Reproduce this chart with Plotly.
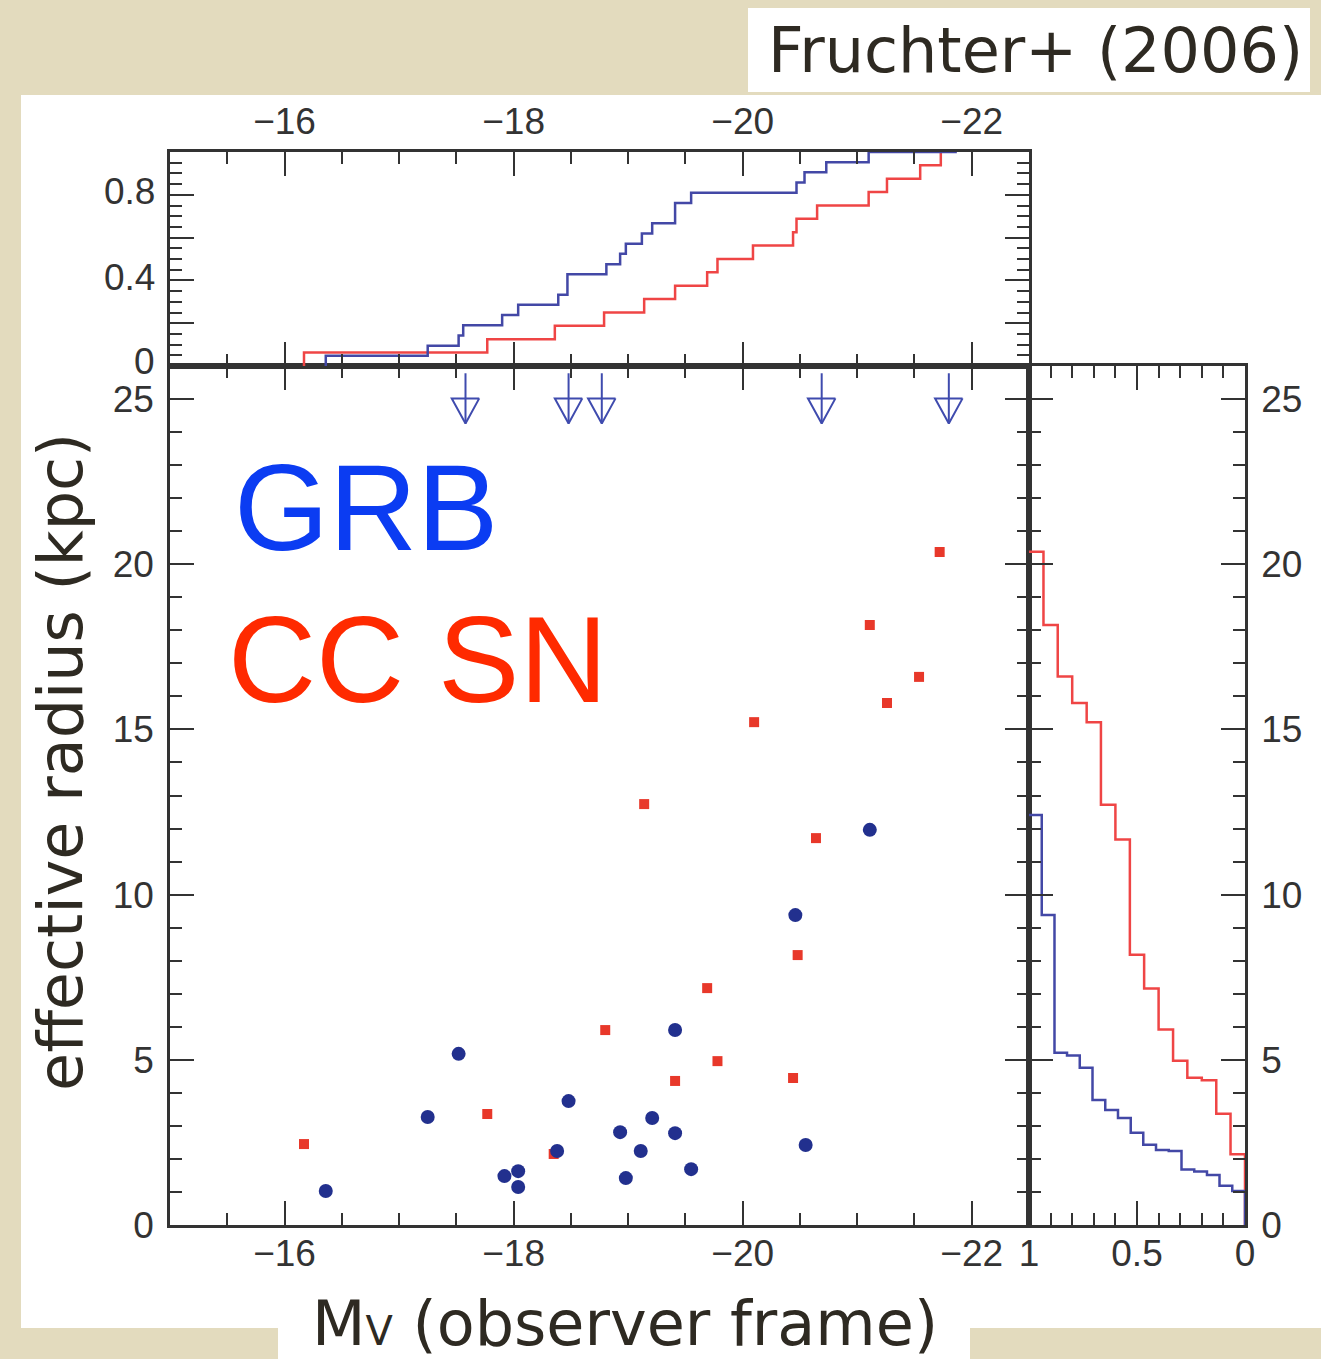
import plotly.graph_objects as go

# ---------------------------------------------------------------- data
# Host galaxies: absolute V magnitude (observer frame) and effective radius (kpc)
grb_mv = [-16.36, -17.25, -17.52, -17.92, -18.04, -18.04, -18.38, -18.48, -18.93,
          -18.98, -19.11, -19.21, -19.41, -19.41, -19.55, -20.46, -20.55, -21.11]
grb_re = [1.03, 3.27, 5.18, 1.48, 1.63, 1.15, 2.24, 3.75, 2.81,
          1.42, 2.24, 3.24, 5.90, 2.78, 1.69, 9.38, 2.42, 11.96]

# GRB hosts with only a size limit (drawn as downward arrows at the top)
grb_lim_mv = [-17.58, -18.48, -18.77, -20.69, -21.80]

sn_mv = [-16.17, -17.77, -18.35, -18.80, -19.14, -19.41, -19.69, -19.78,
         -20.10, -20.44, -20.48, -20.64, -21.11, -21.26, -21.54, -21.72]
sn_re = [2.45, 3.36, 2.15, 5.90, 12.74, 4.36, 7.17, 4.96,
         15.22, 4.45, 8.17, 11.71, 18.16, 15.80, 16.59, 20.37]

# Cumulative fraction vs. Mv (top panel): step positions and level after each step
grb_cum_mv = [-16.36, -17.25, -17.52, -17.56, -17.90, -18.04, -18.39, -18.47, -18.81, -18.93,
              -18.98, -19.12, -19.21, -19.41, -19.55, -20.47, -20.54, -20.73, -21.10]
grb_cum_frac = [0.048, 0.095, 0.143, 0.190, 0.238, 0.286, 0.333, 0.429, 0.476, 0.524,
                0.571, 0.619, 0.667, 0.762, 0.810, 0.857, 0.905, 0.952, 1.0]
grb_cum_end = -21.87

sn_cum_mv = [-16.17, -17.77, -18.36, -18.79, -19.14, -19.41, -19.69, -19.78,
             -20.09, -20.44, -20.47, -20.65, -21.10, -21.26, -21.55, -21.73]
sn_cum_frac = [0.063, 0.125, 0.188, 0.250, 0.313, 0.375, 0.438, 0.500,
               0.563, 0.625, 0.688, 0.750, 0.813, 0.875, 0.938, 1.0]

# Cumulative fraction vs. effective radius (right panel): segment start fraction and level
grb_rcum_frac = [1.0, 0.941, 0.882, 0.824, 0.765, 0.706, 0.647, 0.588, 0.529,
                 0.471, 0.412, 0.353, 0.294, 0.235, 0.176, 0.118, 0.059, 0.0]
grb_rcum_re = [12.41, 9.38, 5.21, 5.13, 4.76, 3.78, 3.48, 3.24, 2.79,
               2.43, 2.27, 2.24, 1.68, 1.62, 1.51, 1.19, 1.03, 0.0]

sn_rcum_frac = [1.0, 0.933, 0.867, 0.800, 0.733, 0.667, 0.600, 0.533,
                0.467, 0.400, 0.333, 0.267, 0.200, 0.133, 0.067, 0.0]
sn_rcum_re = [20.38, 18.16, 16.60, 15.80, 15.22, 12.72, 11.67, 8.18,
              7.16, 5.92, 4.97, 4.46, 4.38, 3.37, 2.14, 0.0]

# labelled values on the top panel's fraction axis
frac_labels = [0, 0.4, 0.8]

# ---------------------------------------------------------------- styling
W, H = 1321, 1359
BEIGE = "#e3dbbe"
AXIS = "#333333"
TEXT = "#2e2a22"
GRB_DOT = "#22308e"
GRB_LINE = "#4348a6"
SN_DOT = "#e8382a"
SN_LINE = "#ef4545"
ARROW = "#3f4bae"


def px(x):
    return x / W


def py(y):
    return 1 - y / H


fig = go.Figure()

# right-hand cumulative panel
fig.add_trace(go.Scatter(x=sn_rcum_frac, y=sn_rcum_re, mode="lines", line_shape="hv",
                         line=dict(color=SN_LINE, width=2.5), xaxis="x3", yaxis="y3",
                         hoverinfo="skip"))
fig.add_trace(go.Scatter(x=grb_rcum_frac, y=grb_rcum_re, mode="lines", line_shape="hv",
                         line=dict(color=GRB_LINE, width=2.5), xaxis="x3", yaxis="y3",
                         hoverinfo="skip"))

# top cumulative panel
fig.add_trace(go.Scatter(x=sn_cum_mv + [sn_cum_mv[-1]], y=[0] + sn_cum_frac, mode="lines",
                         line_shape="vh", line=dict(color=SN_LINE, width=2.5),
                         xaxis="x2", yaxis="y2", hoverinfo="skip"))
fig.add_trace(go.Scatter(x=grb_cum_mv + [grb_cum_end], y=[0] + grb_cum_frac, mode="lines",
                         line_shape="vh", line=dict(color=GRB_LINE, width=2.5),
                         xaxis="x2", yaxis="y2", hoverinfo="skip"))

# main scatter panel
fig.add_trace(go.Scatter(x=sn_mv, y=sn_re, mode="markers",
                         marker=dict(symbol="square", size=10, color=SN_DOT),
                         xaxis="x", yaxis="y", name="CC SN"))
fig.add_trace(go.Scatter(x=grb_mv, y=grb_re, mode="markers",
                         marker=dict(symbol="circle", size=14, color=GRB_DOT),
                         xaxis="x", yaxis="y", name="GRB"))

# upper-limit arrows: shaft plus open downward triangle
ARR_TOP, ARR_BASE, ARR_TIP, ARR_HALF = 25.78, 25.02, 24.26, 0.12
ax, ay = [], []
for m in grb_lim_mv:
    ax += [m, m, None, m - ARR_HALF, m + ARR_HALF, m, m - ARR_HALF, None]
    ay += [ARR_TOP, ARR_TIP, None, ARR_BASE, ARR_BASE, ARR_TIP, ARR_BASE, None]
fig.add_trace(go.Scatter(x=ax, y=ay, mode="lines", line=dict(color=ARROW, width=2),
                         xaxis="x", yaxis="y", hoverinfo="skip"))

tickfont = dict(family="Liberation Sans, Arial, sans-serif", size=37, color=AXIS)
common = dict(showline=True, linecolor=AXIS, linewidth=2.5, mirror="ticks",
              ticks="inside", ticklen=24, tickwidth=2, tickcolor=AXIS,
              showgrid=False, zeroline=False, tickfont=tickfont, automargin=False)


def minor(step, start=0):
    return dict(tick0=start, dtick=step, ticklen=12, ticks="inside", tickwidth=2,
                tickcolor=AXIS)


X_MAIN = [px(170), px(1029)]
X_RIGHT = [px(1029), px(1245)]
Y_MAIN = [py(1225), py(366)]
Y_TOP = [py(366), py(152)]
MV_RANGE = [-15, -22.5]

fig.update_layout(
    width=W, height=H, autosize=False,
    margin=dict(l=0, r=0, t=0, b=0, pad=0, autoexpand=False),
    paper_bgcolor=BEIGE,
    plot_bgcolor="white",
    showlegend=False,
    xaxis=dict(domain=X_MAIN, range=MV_RANGE, anchor="y", tickmode="linear", tick0=-16,
               dtick=2, minor=minor(0.5, -16), ticklabelstandoff=-6, **common),
    yaxis=dict(domain=Y_MAIN, range=[0, 26], anchor="x", tickmode="linear", tick0=0, dtick=5,
               minor=minor(1), ticklabelstandoff=6, **common),
    xaxis2=dict(domain=X_MAIN, range=MV_RANGE, anchor="y2", side="top", tickmode="linear",
                tick0=-16, dtick=2, minor=minor(0.5, -16), ticklabelstandoff=0, **common),
    yaxis2=dict(domain=Y_TOP, range=[0, 1], anchor="x2", tickmode="linear", tick0=0,
                dtick=0.2, minor=minor(0.05), showticklabels=False, **common),
    xaxis3=dict(domain=X_RIGHT, range=[1, 0], anchor="y3", tickmode="array",
                tickvals=[1, 0.5, 0], ticktext=["1", "0.5", "0"], minor=minor(0.1),
                ticklabelstandoff=-6, **common),
    yaxis3=dict(domain=Y_MAIN, range=[0, 26], anchor="x3", side="right", tickmode="linear",
                tick0=0, dtick=5, minor=minor(1), ticklabelstandoff=6, **common),
)

# fraction labels of the top panel (only every other major tick is labelled)
for v in frac_labels:
    fig.add_annotation(x=px(157), y=v, xref="paper", yref="y2", showarrow=False,
                       text=f"{v:g}", font=tickfont, xanchor="right", yanchor="middle",
                       yshift=5 if v == 0 else 3)

# white card behind the figure and the label boxes
white = dict(type="rect", xref="paper", yref="paper", fillcolor="white",
             line=dict(width=0), layer="below")
fig.add_shape(x0=px(21), x1=px(1321), y0=py(1328), y1=py(95), **white)
fig.add_shape(x0=px(278), x1=px(970), y0=py(1359), y1=py(1300), **white)
fig.add_shape(x0=px(748), x1=px(1310), y0=py(92), y1=py(8), **white)

title_font = dict(family="DejaVu Sans, sans-serif", size=62, color=TEXT)
fig.add_annotation(x=px(1035), y=py(50), xref="paper", yref="paper", showarrow=False,
                   text="Fruchter+ (2006)", font=title_font, xanchor="center", yanchor="middle")
fig.add_annotation(x=px(625), y=py(1323), xref="paper", yref="paper", showarrow=False,
                   text='M<span style="font-size:40px">V</span> (observer frame)',
                   font=title_font, xanchor="center", yanchor="middle")
fig.add_annotation(x=px(60), y=py(762), xref="paper", yref="paper", showarrow=False,
                   text="effective radius (kpc)", font=title_font, textangle=-90,
                   xanchor="center", yanchor="middle")

big = dict(family="Liberation Sans, Arial, sans-serif", size=122)
fig.add_annotation(x=px(232), y=py(508), xref="paper", yref="paper", showarrow=False,
                   text="GRB", font=dict(color="#0b3cf2", **big), xanchor="left",
                   yanchor="middle")
fig.add_annotation(x=px(226), y=py(660), xref="paper", yref="paper", showarrow=False,
                   text="CC SN", font=dict(color="#ff2a00", **big), xanchor="left",
                   yanchor="middle")

fig.write_html("out.html",
               post_script="document.body.style.margin='0';"
                           "document.body.style.overflow='hidden';")
